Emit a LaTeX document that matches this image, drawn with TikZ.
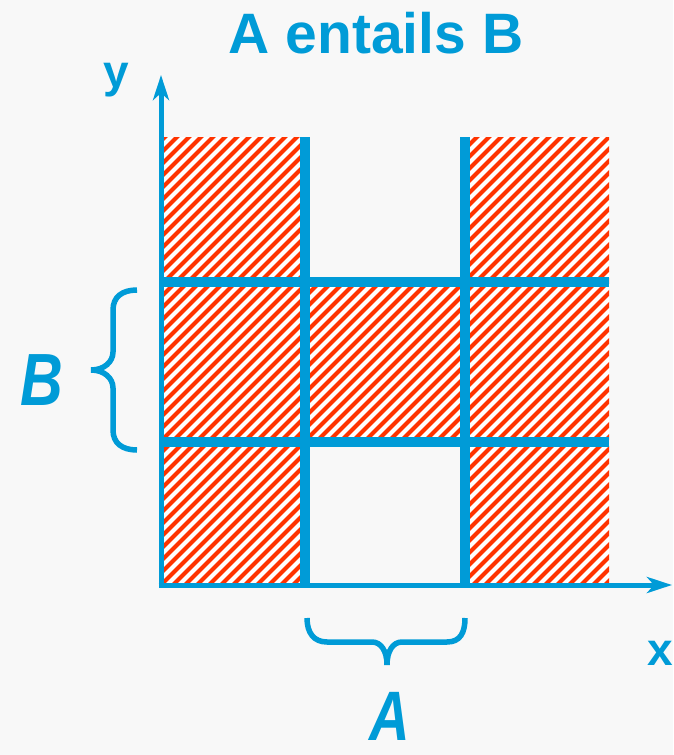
\documentclass[tikz,border=0pt]{standalone}
\usepackage{fontspec}
\setmainfont{Liberation Sans}
\usetikzlibrary{arrows.meta}
\definecolor{bg}{RGB}{248,248,248}
\definecolor{ablue}{RGB}{0,155,215}
\definecolor{hred}{RGB}{255,51,0}
\begin{document}
\begin{tikzpicture}[x=1pt,y=-1pt,
  gridline/.style={ablue,line width=10pt},
  axisline/.style={ablue,line width=5pt,-{Stealth[length=25pt,width=16pt,inset=7pt]}},
  bracestyle/.style={ablue,line width=5.5pt},
  hatchline/.style={hred,line width=4.2pt},
  lbl/.style={text=ablue,inner sep=0pt,font=\bfseries}]
\fill[bg] (0,0) rectangle (673,755);
\useasboundingbox (0,0) rectangle (673,755);
% hatched region
\fill[white] (161,137) rectangle (609,585);
\begin{scope}
  \clip (161,137) rectangle (609,585);
  \foreach \c in {290,302,...,1210} \draw[hatchline] (\c,0) -- ({\c-700},700);
\end{scope}
% unhatched cells
\fill[bg] (305,137) rectangle (465,282);
\fill[bg] (305,442) rectangle (465,585);
% grid lines
\coordinate (v1t) at (305,137); \coordinate (v1b) at (305,585);
\coordinate (v2t) at (465,137); \coordinate (v2b) at (465,585);
\coordinate (h1l) at (161,282); \coordinate (h1r) at (609,282);
\coordinate (h2l) at (161,442); \coordinate (h2r) at (609,442);
\draw[gridline] (v1t) -- (v1b);
\draw[gridline] (v2t) -- (v2b);
\draw[gridline] (h1l) -- (h1r);
\draw[gridline] (h2l) -- (h2r);
% axes
\coordinate (o) at (161,585);
\coordinate (ytip) at (161,75);
\coordinate (xtip) at (672,585);
\draw[axisline] (161,587.5) -- (ytip);
\draw[axisline] (158.5,585) -- (xtip);
% braces
\draw[bracestyle] (137,290) .. controls (122,290) and (113,297) .. (113,310) -- (113,352)
  .. controls (113,362) and (104,370) .. (91,370)
  .. controls (104,370) and (113,378) .. (113,388) -- (113,430)
  .. controls (113,443) and (122,450) .. (137,450);
\draw[bracestyle] (307,618) .. controls (307,633) and (314,642) .. (327,642) -- (372,642)
  .. controls (381,642) and (387,651) .. (387,665)
  .. controls (387,651) and (393,642) .. (402,642) -- (447,642)
  .. controls (460,642) and (465,633) .. (465,618);
% labels
\node[lbl,anchor=base,font=\bfseries\fontsize{57}{57}\selectfont] (title) at (376,53) {A entails B};
\node[lbl,anchor=base,font=\bfseries\fontsize{46}{46}\selectfont] (ylab) at (116,87) {y};
\node[lbl,anchor=base,font=\bfseries\fontsize{46}{46}\selectfont] (xlab) at (660,665) {x};
\node[lbl,anchor=base,xscale=0.8,font=\bfseries\itshape\fontsize{74}{74}\selectfont] (blab) at (42,405) {B};
\node[lbl,anchor=base,xscale=0.8,font=\bfseries\itshape\fontsize{70}{70}\selectfont] (alab) at (390,740) {A};
\end{tikzpicture}
\end{document}
